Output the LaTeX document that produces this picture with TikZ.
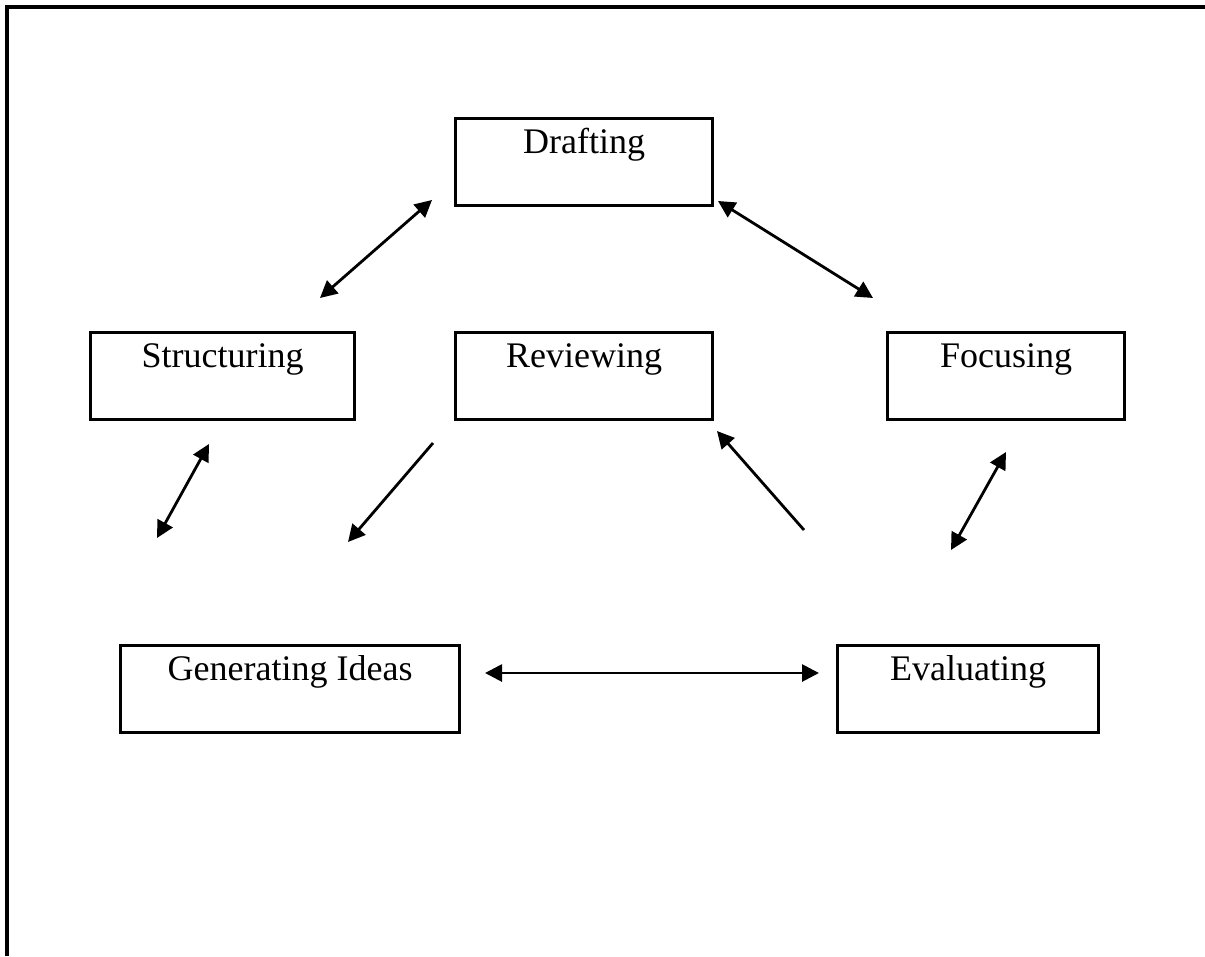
\documentclass[tikz,border=0pt]{standalone}
\usepackage{fontspec}
\setmainfont{Liberation Serif}
\usetikzlibrary{arrows.meta}
\tikzset{
  stage/.style={draw, line width=3.2pt, anchor=north west, inner xsep=0pt, inner ysep=9pt,
    minimum height=87pt, text height=26pt, text depth=43pt,
    font=\fontsize{36}{40}\selectfont},
  tip/.style={Triangle[length=17pt,width=17pt]},
  link/.style={line width=2.8pt, -{Triangle[length=17pt,width=17pt]}},
  dlink/.style={line width=2.8pt, {Triangle[length=17pt,width=17pt]}-{Triangle[length=17pt,width=17pt]}},
  frame/.style={line width=3.5pt}
}
\begin{document}
\begin{tikzpicture}[x=1pt,y=-1pt]
\useasboundingbox (0,0) rectangle (1205,956);
\draw[frame] (7,956) -- (7,7) -- (1205,7);

\node[stage, minimum width=257pt] (draft) at (454,117) {Drafting};
\node[stage, minimum width=264pt] (struct) at (89,331) {Structuring};
\node[stage, minimum width=257pt] (review) at (454,331) {Reviewing};
\node[stage, minimum width=237pt] (focus) at (886,331) {Focusing};
\node[stage, minimum width=339pt] (gen) at (119,644) {Generating Ideas};
\node[stage, minimum width=261pt] (eval) at (836,644) {Evaluating};

\coordinate (sd1) at (320,298);
\coordinate (sd2) at (432,200);
\coordinate (df1) at (718,201);
\coordinate (df2) at (873,298);
\coordinate (sg1) at (209,444);
\coordinate (sg2) at (157,538);
\coordinate (rg1) at (433,443);
\coordinate (rg2) at (348,542);
\coordinate (er1) at (804,530);
\coordinate (er2) at (717,431);
\coordinate (fe1) at (1006,452);
\coordinate (fe2) at (951,550);
\coordinate (ge1) at (485,673);
\coordinate (ge2) at (819,673);

\draw[dlink] (sd1) -- (sd2);
\draw[dlink] (df1) -- (df2);
\draw[dlink] (sg1) -- (sg2);
\draw[link] (rg1) -- (rg2);
\draw[link] (er1) -- (er2);
\draw[dlink] (fe1) -- (fe2);
\draw[dlink] (ge1) -- (ge2);
\end{tikzpicture}
\end{document}
